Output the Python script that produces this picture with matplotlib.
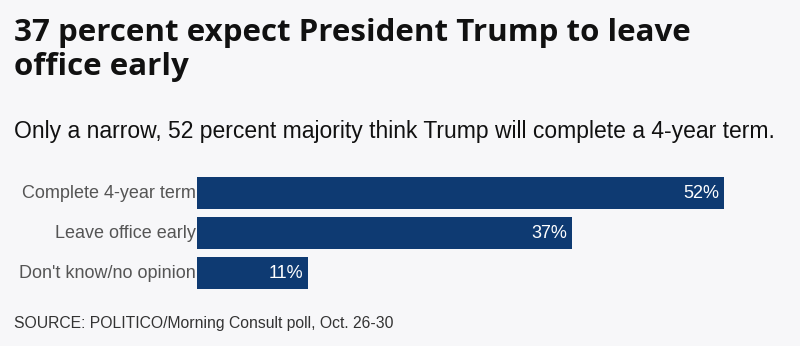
import matplotlib
matplotlib.use("Agg")
import matplotlib.pyplot as plt

categories = ["Complete 4-year term", "Leave office early", "Don't know/no opinion"]
values = [52, 37, 11]
value_labels = ["52%", "37%", "11%"]

title_lines = ["37 percent expect President Trump to leave", "office early"]
subtitle = "Only a narrow, 52 percent majority think Trump will complete a 4-year term."
source = "SOURCE: POLITICO/Morning Consult poll, Oct. 26-30"

W, H = 800, 346
bg = "#f7f7f9"
bar_color = "#0e3a72"

fig = plt.figure(figsize=(W / 100, H / 100), dpi=100, facecolor=bg)

ax_left, ax_right, ax_top, ax_bottom = 197, 800, 173, 293
ax = fig.add_axes([ax_left / W, 1 - ax_bottom / H, (ax_right - ax_left) / W, (ax_bottom - ax_top) / H])
ax.set_facecolor(bg)

px_per_unit = (724 - 197) / 52
xmax = (ax_right - ax_left) / px_per_unit

y = list(range(len(categories)))
ax.barh(y, values, height=0.8, color=bar_color, left=0)
ax.set_xlim(0, xmax)
ax.set_ylim(len(categories) - 0.5, -0.5)

for yi, v, lab in zip(y, values, value_labels):
    ax.text(v - 0.5, yi, lab, ha="right", va="center", color="white",
            fontsize=13, family="Liberation Sans")

for yi, c in zip(y, categories):
    ax.text(-0.1, yi, c, ha="right", va="center", color="#555555",
            fontsize=13, family="Liberation Sans")

ax.set_xticks([])
ax.set_yticks([])
for s in ax.spines.values():
    s.set_visible(False)

for i, line in enumerate(title_lines):
    fig.text(14 / W, 1 - (41 + 34 * i) / H, line, ha="left", va="baseline", fontsize=22.5,
             fontweight="bold", family="Open Sans", color="#111111")
fig.text(14 / W, 1 - 138 / H, subtitle, ha="left", va="baseline", fontsize=16.5,
         family="Liberation Sans", color="#111111")
fig.text(14 / W, 1 - 328 / H, source, ha="left", va="baseline", fontsize=11.3,
         family="Liberation Sans", color="#333333")

fig.savefig("out.png", dpi=100, facecolor=bg)
